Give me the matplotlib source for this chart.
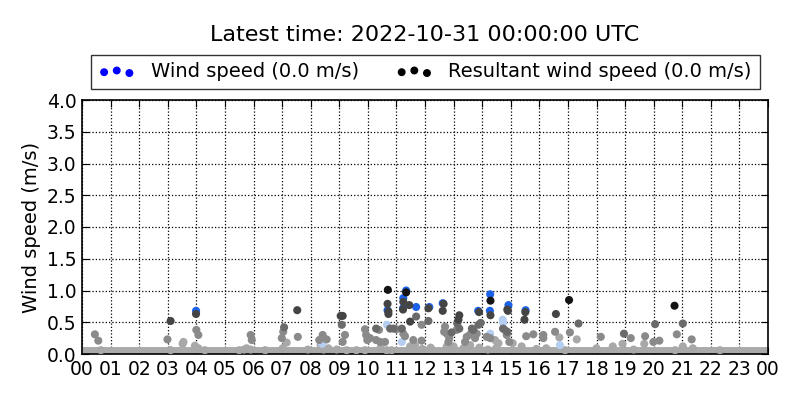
import matplotlib
matplotlib.use("Agg")
import matplotlib.pyplot as plt

# ---- data (hours of day, wind speed m/s) ----
light_h = [0.66, 3.1, 3.52, 3.55, 4.07, 3.95, 5.67, 5.76, 5.9, 6.41, 7.02, 7.16, 8.35, 8.45, 8.62,
           8.91, 9.26, 9.9, 10.45, 10.66, 10.83, 11.48, 11.65, 12.76, 13.34, 13.58, 14.45, 14.57,
           14.5, 15.07, 15.38, 16.24, 16.7, 17.31, 18.0, 18.57, 18.91, 19.67, 20.75, 21.02, 21.37,
           22.32, 12.2, 12.9, 13.0, 15.9, 16.9, 19.3, 9.6, 7.9, 5.5, 4.3, 11.9, 13.9, 14.2]
light_v = [0.06, 0.06, 0.16, 0.19, 0.09, 0.13, 0.07, 0.09, 0.07, 0.06, 0.09, 0.18, 0.14, 0.07, 0.09,
           0.07, 0.06, 0.06, 0.10, 0.06, 0.06, 0.12, 0.14, 0.12, 0.09, 0.14, 0.22, 0.17,
           0.10, 0.17, 0.12, 0.09, 0.26, 0.23, 0.09, 0.12, 0.16, 0.16, 0.06, 0.12, 0.09,
           0.06, 0.10, 0.08, 0.12, 0.08, 0.06, 0.07, 0.06, 0.07, 0.06, 0.06, 0.08, 0.10, 0.07]

mid_h = [0.45, 0.57, 2.99, 4.0, 4.07, 5.9, 5.94, 7.04, 6.99, 7.55, 8.3, 8.42, 8.56, 9.2, 9.12,
         9.9, 9.94, 9.98, 10.08, 10.39, 10.29, 10.43, 10.6, 11.0, 11.24, 11.3, 11.59, 11.88, 11.88,
         12.67, 12.76, 12.85, 12.82, 13.46, 13.4, 13.58, 13.75, 13.81, 14.16, 14.28, 14.79, 14.86,
         14.95, 15.54, 15.79, 16.14, 16.14, 16.55, 17.07, 18.15, 19.2, 19.7, 19.99, 20.2, 20.81,
         21.33, 13.11, 12.7]
mid_v = [0.31, 0.21, 0.23, 0.38, 0.30, 0.30, 0.22, 0.35, 0.25, 0.27, 0.22, 0.30, 0.23, 0.30, 0.19,
         0.39, 0.30, 0.22, 0.25, 0.38, 0.22, 0.19, 0.19, 0.39, 0.32, 0.28, 0.22, 0.21, 0.46,
         0.35, 0.32, 0.25, 0.19, 0.27, 0.19, 0.31, 0.25, 0.32, 0.27, 0.25, 0.38, 0.30,
         0.19, 0.28, 0.31, 0.30, 0.25, 0.35, 0.34, 0.27, 0.25, 0.28, 0.19, 0.21, 0.31,
         0.23, 0.38, 0.43]

dmid_h = [7.07, 9.09, 10.29, 10.78, 10.9, 11.19, 11.69, 12.12, 12.93, 13.13, 13.2, 13.64, 13.69,
          13.95, 13.87, 14.73, 14.88, 17.37, 18.96, 20.05, 21.02]
dmid_v = [0.42, 0.46, 0.40, 0.40, 0.40, 0.40, 0.59, 0.52, 0.34, 0.48, 0.40, 0.40, 0.38,
          0.49, 0.46, 0.40, 0.35, 0.48, 0.32, 0.47, 0.48]

dark_h = [3.1, 3.99, 7.53, 9.05, 9.12, 10.69, 10.72, 10.72, 11.24, 11.45, 11.23, 11.48, 12.12,
          12.65, 12.62, 13.2, 13.17, 13.89, 14.29, 14.88, 14.9, 15.51, 15.48, 16.58]
dark_v = [0.52, 0.63, 0.69, 0.60, 0.60, 0.79, 0.67, 0.63, 0.82, 0.77, 0.70, 0.51, 0.72,
          0.79, 0.68, 0.61, 0.54, 0.66, 0.61, 0.70, 0.68, 0.66, 0.54, 0.63]

black_h = [10.7, 11.34, 14.29, 17.04, 20.73]
black_v = [1.01, 0.97, 0.84, 0.85, 0.76]

blue_h = [3.99, 10.69, 11.24, 11.34, 11.23, 11.69, 12.15, 12.62, 13.86, 14.28, 14.27, 14.92, 15.52]
blue_v = [0.68, 0.69, 0.88, 1.00, 0.72, 0.74, 0.74, 0.80, 0.68, 0.94, 0.68, 0.77, 0.69]

lblue_h = [10.67, 11.19, 14.28, 14.72, 14.73, 16.72, 8.4]
lblue_v = [0.46, 0.19, 0.32, 0.54, 0.49, 0.14, 0.16]

calm_h = [0, 24]
calm_v = [0, 0]

xtick_vals = list(range(25))
xtick_labels = ["%02d" % (h % 24) for h in range(25)]
ytick_vals = [0.0, 0.5, 1.0, 1.5, 2.0, 2.5, 3.0, 3.5, 4.0]

title = "Latest time: 2022-10-31 00:00:00 UTC"
legend_labels = ["Wind speed (0.0 m/s)", "Resultant wind speed (0.0 m/s)"]

# ---- figure ----
fig = plt.figure(figsize=(8, 4), dpi=100)
ax = fig.add_axes([0.1025, 0.115, 0.8575, 0.635])

S = 34
ax.plot(calm_h, calm_v, color="#aaaaaa", lw=10, solid_capstyle="butt", zorder=2)
ax.scatter(light_h, light_v, s=S, color="#a8a8a8", edgecolors="none", zorder=3)
ax.scatter(lblue_h, lblue_v, s=S, color="#b4cdf0", edgecolors="none", zorder=3)
ax.scatter(mid_h, mid_v, s=S, color="#8a8a8a", edgecolors="none", zorder=4)
ax.scatter(dmid_h, dmid_v, s=S, color="#6a6a6a", edgecolors="none", zorder=5)
ax.scatter(blue_h, blue_v, s=S, color="#1a62ea", edgecolors="none", zorder=6)
ax.scatter(dark_h, dark_v, s=S, color="#444444", edgecolors="none", zorder=7)
ax.scatter(black_h, black_v, s=S, color="#141414", edgecolors="none", zorder=8)

ax.set_xlim(0, 24)
ax.set_ylim(0, 4.0)
ax.set_xticks(xtick_vals)
ax.set_xticklabels(xtick_labels)
ax.set_yticks(ytick_vals)
ax.set_yticklabels(["%.1f" % v for v in ytick_vals])
ax.tick_params(direction="in", top=True, right=True, labelsize=13.5, length=5, pad=4)
ax.grid(True, color="black", linestyle=":", linewidth=0.9)
ax.set_axisbelow(True)
for sp in ax.spines.values():
    sp.set_linewidth(1.2)
ax.set_ylabel("Wind speed (m/s)", fontsize=14)

fig.text(0.531, 0.912, title, ha="center", va="center", fontsize=16)

nan = float("nan")
h1 = ax.scatter([nan], [nan], s=22, color="#0000ff")
h2 = ax.scatter([nan], [nan], s=22, color="black")
leg = ax.legend([h1, h2], legend_labels, loc="lower center", bbox_to_anchor=(0.5, 1.043),
                ncol=2, scatterpoints=3, fontsize=14, frameon=True, fancybox=False,
                edgecolor="black", columnspacing=1.9, handlelength=1.9, handletextpad=0.8,
                borderpad=0.4, borderaxespad=0)
leg.get_frame().set_linewidth(1.0)

fig.savefig("out.png", dpi=100)
